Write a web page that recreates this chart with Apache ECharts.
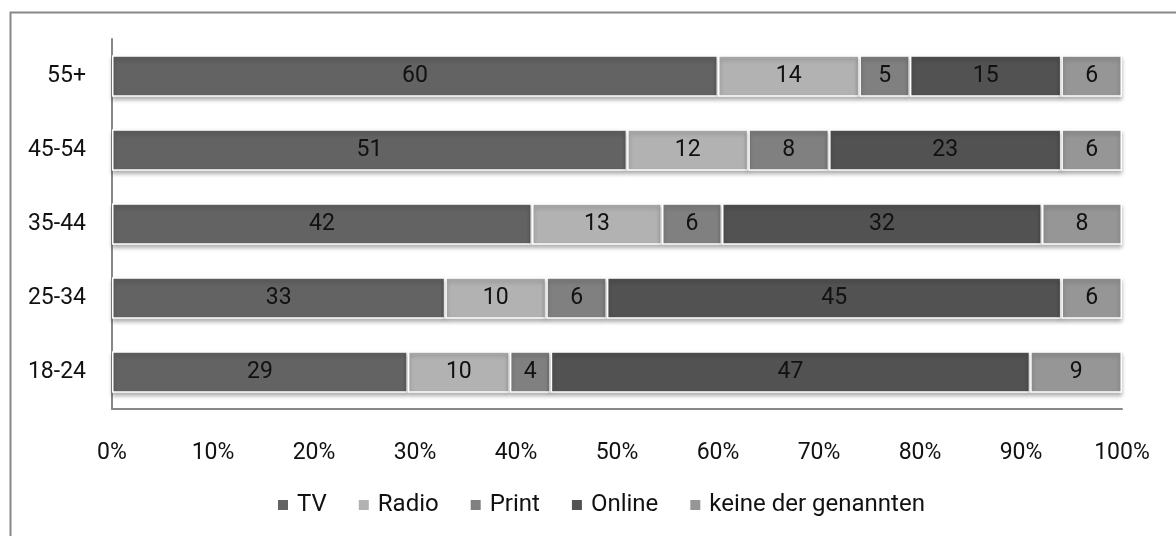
<!DOCTYPE html>
<html><head><meta charset="utf-8">
<script src="https://cdn.jsdelivr.net/npm/echarts@6/dist/echarts.min.js"></script>
<style>html,body{margin:0;padding:0;background:#fff}#c{width:1176px;height:536px}</style>
</head><body><div id="c"></div>
<script>
const categories = ['18-24', '25-34', '35-44', '45-54', '55+'];
const seriesNames = ['TV', 'Radio', 'Print', 'Online', 'keine der genannten'];
const tv = [29, 33, 42, 51, 60];
const radio = [10, 10, 13, 12, 14];
const print = [4, 6, 6, 8, 5];
const online = [47, 45, 32, 23, 15];
const keine = [9, 6, 8, 6, 6];
const xTicks = ['0%','10%','20%','30%','40%','50%','60%','70%','80%','90%','100%'];
const colors = ['#636363', '#b2b2b2', '#808080', '#525252', '#969696'];

const all = [tv, radio, print, online, keine];
const totals = categories.map((_, i) => all.reduce((s, a) => s + a[i], 0));
const FONT = 'Roboto, "Liberation Sans", sans-serif';
const FS = 23;

const series = all.map((arr, k) => ({
  name: seriesNames[k],
  type: 'bar',
  stack: 'total',
  barCategoryGap: '44%',
  itemStyle: { color: colors[k], borderColor: '#ffffff', borderWidth: 1.5,
    shadowColor: 'rgba(0,0,0,0.3)', shadowBlur: 4, shadowOffsetY: 3 },
  label: { show: true, position: 'inside', color: '#111', fontSize: FS, fontFamily: FONT,
    formatter: p => String(arr[p.dataIndex]) },
  data: arr.map((v, i) => v / totals[i] * 100)
}));

const chart = echarts.init(document.getElementById('c'));
chart.setOption({
  animation: false,
  backgroundColor: '#fff',
  graphic: [{ type: 'rect', left: 8, top: 10, shape: { width: 1200, height: 600 },
    style: { fill: 'none', stroke: '#888', lineWidth: 2 }, silent: true }],
  grid: { left: 112, right: 54, top: 39, bottom: 127 },
  legend: {
    top: 488, left: 271, itemWidth: 12, itemHeight: 12, itemGap: 30,
    icon: 'rect',
    textStyle: { fontSize: 24, color: '#111', fontFamily: FONT, padding: [0, 0, 0, 3] },
    data: seriesNames
  },
  xAxis: {
    type: 'value', min: 0, max: 100, interval: 10,
    axisLine: { show: true, lineStyle: { color: '#888', width: 2 } },
    axisTick: { show: false }, splitLine: { show: false },
    axisLabel: { margin: 33, fontSize: FS, color: '#111', fontFamily: FONT,
      formatter: v => xTicks[Math.round(v / 10)] }
  },
  yAxis: {
    type: 'category', data: categories,
    axisLine: { show: true, lineStyle: { color: '#888', width: 2 } },
    axisTick: { show: false },
    axisLabel: { margin: 26, fontSize: FS, color: '#111', fontFamily: FONT }
  },
  series
});
</script></body></html>
